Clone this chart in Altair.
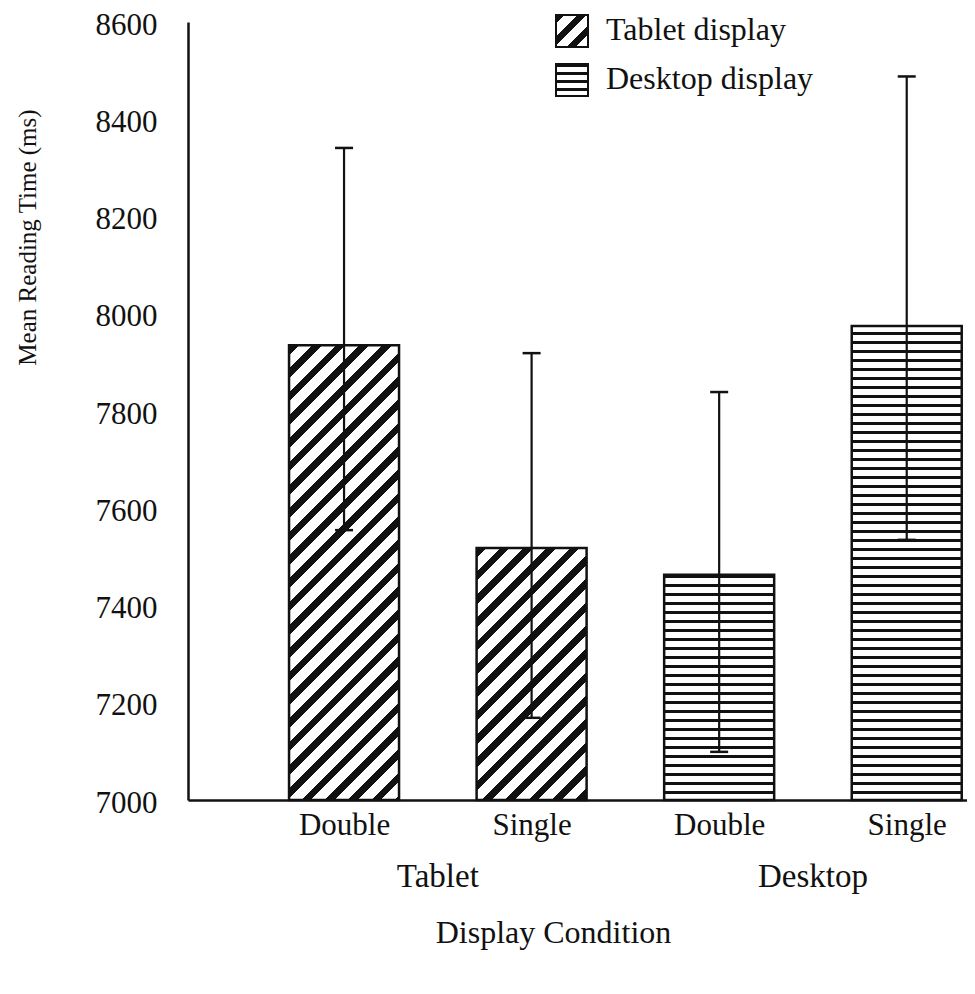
import json
import math
import altair as alt
import pandas as pd

# ---------------- data ----------------
devices = ["Tablet", "Tablet", "Desktop", "Desktop"]
conditions = ["Double", "Single", "Double", "Single"]
means = [7935, 7518, 7463, 7975]
err_low = [7555, 7169, 7099, 7535]
err_high = [8341, 7919, 7839, 8488]
positions = [1, 2, 3, 4]
y_ticks = [7000, 7200, 7400, 7600, 7800, 8000, 8200, 8400, 8600]
legend_labels = ["Tablet display", "Desktop display"]
group_labels = ["Tablet", "Desktop"]

# ---------------- style ----------------
W, H = 779, 778
Y_MIN, Y_MAX = 7000, 8600
X_MIN, X_MAX = 0.1947, 4.2947
BAR_W = 110
FONT = "Liberation Serif"
INK = "#111111"
DIAG_PERIOD = 16.5   # px, perpendicular spacing of the diagonal hatch
DIAG_DARK = 0.42
HORZ_PERIOD = 9.0    # px, spacing of the horizontal hatch
HORZ_DARK = 3.0 / 9.0

df = pd.DataFrame({
    "idx": list(range(len(means))),
    "pos": positions,
    "device": devices,
    "condition": conditions,
    "mean": means,
    "lo": err_low,
    "hi": err_high,
})


def stripe_stops(period_t, dark_frac, start_dark=True):
    stops = []
    t = 0.0
    a_col, b_col = (INK, "white") if start_dark else ("white", INK)
    while t < 1.0 - 1e-9:
        b = min(t + dark_frac * period_t, 1.0)
        c = min(t + period_t, 1.0)
        stops += [(t, a_col), (b, a_col), (b, b_col), (c, b_col)]
        t += period_t
    return [alt.GradientStop(color=col, offset=round(o, 6)) for o, col in stops]


def diag_gradient(w, h, period=DIAG_PERIOD):
    k = (w + h) / (w * w + h * h)
    period_t = period * math.sqrt(2) / (w + h)
    return alt.LinearGradient(gradient="linear", stops=stripe_stops(period_t, DIAG_DARK),
                              x1=0, y1=0, x2=k * w, y2=k * h)


def horz_gradient(h, period=HORZ_PERIOD):
    # phase counted from the bar's base so that stripes sit on whole pixels
    return alt.LinearGradient(gradient="linear",
                              stops=stripe_stops(period / h, 1 - HORZ_DARK, start_dark=False),
                              x1=0, y1=1, x2=0, y2=0)


x_scale = alt.Scale(domain=[X_MIN, X_MAX], nice=False, zero=False)
y_scale = alt.Scale(domain=[Y_MIN, Y_MAX], nice=False, zero=False)

x_axis = alt.Axis(
    values=positions,
    labelExpr=f"{json.dumps(conditions)}[datum.value - 1]",
    ticks=False, grid=False,
    domainColor=INK, domainWidth=2.5,
    labelFont=FONT, labelFontSize=31, labelColor=INK, labelPadding=10,
    titleFont=FONT, titleFontSize=32, titleFontWeight="normal", titleColor=INK,
    titleX=365, titleY=132, titleAlign="center", titleBaseline="middle",
)
y_axis = alt.Axis(
    values=y_ticks, format="d",
    ticks=False, grid=False,
    domainColor=INK, domainWidth=2.5,
    labelFont=FONT, labelFontSize=31, labelColor=INK, labelPadding=31,
    labelBaseline="middle", labelOffset=3,
    titleFont=FONT, titleFontSize=25, titleFontWeight="normal", titleColor=INK,
    titleX=-161, titleY=215, titleAngle=270, titleAlign="center", titleBaseline="middle",
)


def xe(field):
    return alt.X(f"{field}:Q", scale=x_scale, axis=x_axis, title="Display Condition")


def ye(field):
    return alt.Y(f"{field}:Q", scale=y_scale, axis=y_axis, title="Mean Reading Time (ms)")


px_per_unit = H / (Y_MAX - Y_MIN)
layers = []

# bars: one layer per bar, each with a hatch fitted to its own size
for i, (dev, m) in enumerate(zip(devices, means)):
    h = (m - Y_MIN) * px_per_unit
    grad = diag_gradient(BAR_W, h) if dev == "Tablet" else horz_gradient(h)
    layers.append(
        alt.Chart(df).transform_filter(alt.datum.idx == i)
        .mark_bar(width=BAR_W, fill=grad, stroke=INK, strokeWidth=2.5)
        .encode(x=xe("pos"), y=ye("mean"), y2=alt.datum(Y_MIN))
    )

# error bars
layers.append(
    alt.Chart(df).mark_rule(color=INK, strokeWidth=2.2)
    .encode(x=xe("pos"), y=ye("lo"), y2="hi:Q")
)
cap = dict(shape="M-1,0L1,0", size=18 * 18, filled=False, color=INK, strokeWidth=2.5, opacity=1)
layers.append(alt.Chart(df).mark_point(**cap).encode(x=xe("pos"), y=ye("hi")))
layers.append(alt.Chart(df).mark_point(**cap).encode(x=xe("pos"), y=ye("lo")))

# group labels under the axis
gdf = pd.DataFrame({
    "label": group_labels,
    "mid": [sum(p for p, d in zip(positions, devices) if d == g) /
            sum(1 for d in devices if d == g) for g in group_labels],
})
layers.append(
    alt.Chart(gdf).mark_text(font=FONT, fontSize=33, color=INK, baseline="middle", align="center")
    .encode(x=xe("mid"), y=alt.value(855), text="label:N")
)

# custom legend (hatched swatches)
SW = 32
ldf = pd.DataFrame({"label": legend_labels})
legend_fills = [diag_gradient(SW, SW, period=15), horz_gradient(SW, period=8)]
legend_y = [9, 58]
for lab, fill, ly in zip(legend_labels, legend_fills, legend_y):
    layers.append(
        alt.Chart(ldf).transform_filter(alt.datum.label == lab)
        .mark_square(size=SW * SW, fill=fill, stroke=INK, strokeWidth=2, opacity=1, fillOpacity=1)
        .encode(x=alt.value(384), y=alt.value(ly))
    )
    layers.append(
        alt.Chart(ldf).transform_filter(alt.datum.label == lab)
        .mark_text(font=FONT, fontSize=32, color=INK, align="left", baseline="middle")
        .encode(x=alt.value(418), y=alt.value(ly - 1), text="label:N")
    )

chart = (
    alt.layer(*layers)
    .properties(
        width=W, height=H,
        padding={"left": 180, "top": 14, "right": 0, "bottom": 170},
        autosize=alt.AutoSizeParams(type="none"),
    )
    .configure_view(stroke=None)
)

chart.save("out.html", embed_options={"renderer": "svg", "actions": False})
